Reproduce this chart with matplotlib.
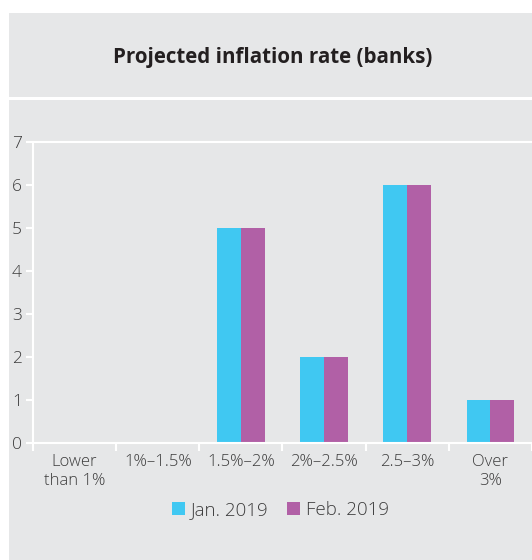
import matplotlib.pyplot as plt
import numpy as np
from matplotlib.patches import Rectangle

plt.rcParams['font.family'] = ['Open Sans', 'DejaVu Sans']

categories = ["Lower\nthan 1%", "1%\u20131.5%", "1.5%\u20132%", "2%\u20132.5%", "2.5\u20133%", "Over\n3%"]
jan_2019 = [0, 0, 5, 2, 6, 1]
feb_2019 = [0, 0, 5, 2, 6, 1]
series_names = ["Jan. 2019", "Feb. 2019"]
title = "Projected inflation rate (banks)"

panel_gray = "#e6e7e8"
cyan = "#40c8f2"
purple = "#b160a6"
text_col = "#3c3c3c"

fig = plt.figure(figsize=(5.32, 5.60), dpi=100)

# grey background panels
fig.add_artist(Rectangle((9 / 532, 1 - 97 / 560), 1, 84 / 560, transform=fig.transFigure,
                         facecolor=panel_gray, edgecolor="none", zorder=0))
fig.add_artist(Rectangle((9 / 532, 0), 1, 460 / 560, transform=fig.transFigure,
                         facecolor=panel_gray, edgecolor="none", zorder=0))

fig.text(0.512, 1 - 57 / 560, title, ha="center", va="center",
         fontsize=14.8, fontweight="bold", color="#231f20")

ax = fig.add_axes([33 / 532, 1 - 443 / 560, 1 - 33 / 532, (443 - 142) / 560])
ax.set_facecolor("none")

x = np.arange(len(categories))
w = 0.287
ax.bar(x - w / 2, jan_2019, width=w, color=cyan, label=series_names[0], zorder=2)
ax.bar(x + w / 2, feb_2019, width=w, color=purple, label=series_names[1], zorder=2)

ax.set_xlim(-0.5, -0.5 + (532 - 33) / 83.7)
ax.set_ylim(0, 7)
ax.set_yticks(range(0, 8))

ax.set_xticks(np.arange(len(categories) + 1) - 0.5)
ax.set_xticklabels([])
ax.set_xticks(x, minor=True)
ax.set_xticklabels(categories, minor=True)

for side in ["left", "top", "bottom"]:
    ax.spines[side].set_color("white")
    ax.spines[side].set_linewidth(1.5)
ax.spines["right"].set_visible(False)

ax.tick_params(axis="y", colors="white", length=5, width=1.5, labelcolor=text_col,
               labelsize=12.5, pad=3)
ax.tick_params(axis="x", which="major", colors="white", length=6, width=1.5)
ax.tick_params(axis="x", which="minor", length=0, labelcolor=text_col, labelsize=12, pad=8)
for lbl in ax.get_yticklabels():
    lbl.set_fontweight("light")
for lbl in ax.get_xticklabels(minor=True):
    lbl.set_fontweight("light")
    lbl.set_linespacing(1.2)

fig.legend(loc="center", bbox_to_anchor=(0.527, 1 - 510 / 560), ncol=2, frameon=False,
           handlelength=0.7, handleheight=0.7, handletextpad=0.3,
           columnspacing=1.0, labelcolor=text_col, prop={"weight": "light", "size": 13.5})

fig.savefig("out.png", dpi=100, facecolor="white")
